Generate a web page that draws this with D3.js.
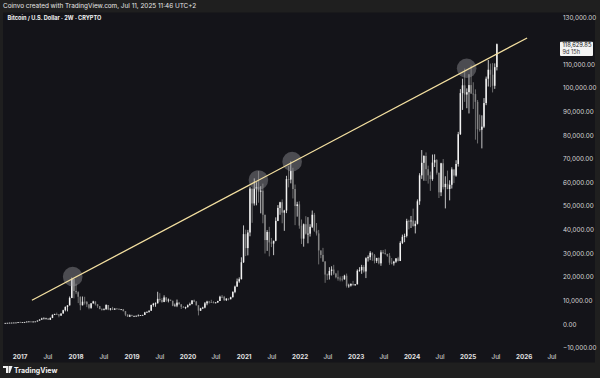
<!DOCTYPE html>
<html>
<head>
<meta charset="utf-8">
<script src="https://cdn.jsdelivr.net/npm/d3@7"></script>
<style>
  body { margin: 0; background: #1f1f1f; }
  svg { display: block; font-family: Inter, "Noto Sans", sans-serif; }
</style>
</head>
<body>
<div id="chart-container"></div>
<script>
// BTC/USD 2W candles, first candle opens 2016-09-12, one every 14 days
const firstOpen = 607;
const closes = [
  600, 617, 655, 710, 730, 765, 790, 1000, 820, 920,
  1000, 1170, 1230, 960, 1190, 1240, 1600, 2050, 2500, 2500,
  2500, 1950, 2750, 4050, 4350, 4250, 3700, 4600, 6000, 7400,
  8050, 11200, 19200, 14150, 13600, 11700, 8100, 9600, 9500, 8500,
  7000, 8900, 9700, 8500, 7700, 6500, 6350, 6350, 8200, 6300,
  6700, 6200, 6700, 6600, 6400, 6400, 5600, 4100, 3250, 3850,
  3500, 3550, 3650, 3750, 3900, 4000, 5050, 5300, 5800, 8200,
  8750, 8900, 10800, 10300, 9500, 11400, 10150, 10450, 10000, 7900,
  7950, 9200, 8500, 7400, 7100, 7300, 8100, 8600, 10150, 9650,
  8050, 5800, 6800, 7100, 8900, 9650, 9450, 9350, 9050, 9300,
  9900, 11700, 11650, 10250, 10900, 10650, 11500, 13750, 16000, 18200,
  19150, 26300, 38200, 32300, 38900, 57500, 51200, 57500, 58200, 56200,
  56600, 46400, 35700, 39100, 34700, 34200, 35400, 43800, 49300, 51700,
  47300, 48200, 61500, 61300, 65000, 57300, 50100, 50800, 41800, 36300,
  42400, 38400, 38400, 41300, 46400, 39700, 38500, 31300, 29400, 26600,
  21100, 20800, 22600, 23200, 21500, 19950, 19400, 19300, 19100, 20600,
  16300, 16450, 17100, 16850, 16950, 22700, 22900, 24300, 22400, 28000,
  28450, 30300, 29250, 26900, 28100, 25850, 30500, 30150, 29800, 29050,
  26100, 25850, 26550, 27950, 26850, 34500, 37050, 37450, 43800, 43700,
  43950, 41600, 42600, 52100, 63100, 68400, 71300, 65700, 63100, 61500,
  68500, 69600, 64200, 55900, 68200, 58100, 59500, 57300, 59100, 65600,
  63000, 67900, 80500, 97900, 101200, 97300, 98300, 101300, 97700, 97500,
  94200, 82600, 82400, 83700, 93700, 104000, 107800, 105700, 101000, 108900,
  118630
];
const highs = [
  610, 620, 660, 740, 750, 770, 795, 1000, 1150, 930,
  1050, 1190, 1300, 1250, 1200, 1250, 1620, 2100, 2800, 3000,
  2800, 2650, 2900, 4200, 4500, 4980, 4300, 4650, 6200, 7600,
  8100, 11800, 19800, 19200, 17200, 14000, 11800, 11800, 11700, 9900,
  8500, 9000, 9990, 9700, 8500, 7800, 6800, 6800, 8500, 8200,
  6900, 7400, 6800, 6800, 6700, 6500, 6550, 5600, 4300, 4200,
  4100, 3700, 3700, 4200, 3950, 4050, 5300, 5450, 5900, 8350,
  9100, 9300, 13800, 13200, 11100, 12300, 11500, 10950, 10450, 10000,
  8800, 10500, 9500, 8500, 7750, 7500, 8450, 9200, 10200, 10500,
  9900, 8150, 7000, 7450, 9450, 10000, 9950, 10400, 9800, 9400,
  10000, 12100, 12450, 12050, 11100, 10950, 11700, 14000, 16400, 19400,
  19900, 28400, 41900, 40100, 40000, 58300, 57500, 61800, 60200, 64900,
  58500, 59600, 45800, 39900, 41300, 36600, 35400, 45300, 50500, 51900,
  52900, 48500, 62900, 67000, 69000, 66300, 59200, 51900, 52100, 44400,
  42700, 45800, 45400, 42400, 48200, 47200, 42900, 40000, 31300, 32400,
  26800, 21500, 24200, 24600, 25200, 21800, 22800, 20300, 20500, 21000,
  21500, 17200, 17400, 18400, 17100, 23300, 24200, 25200, 25100, 28400,
  29200, 31000, 30500, 29800, 28200, 28400, 31400, 31500, 31800, 29900,
  30200, 28100, 26900, 28000, 28600, 35200, 38000, 38400, 44700, 44300,
  45900, 49000, 43900, 52900, 64000, 73800, 71600, 72800, 67200, 64700,
  71900, 72000, 70000, 63400, 68400, 70000, 62700, 65100, 61000, 66500,
  65600, 69500, 81500, 99600, 104000, 108300, 99900, 105900, 109600, 102500,
  99500, 95000, 88800, 88500, 95800, 104900, 111900, 110400, 110600, 110500,
  118900
];
const lows = [
  590, 595, 610, 650, 690, 725, 755, 785, 750, 820,
  915, 980, 1100, 900, 950, 1160, 1230, 1600, 1900, 2350,
  2300, 1850, 1850, 2650, 3950, 4050, 2980, 3650, 4600, 5500,
  5500, 8000, 11100, 11000, 12800, 9000, 6000, 8000, 8400, 7300,
  6400, 6600, 8800, 8000, 7000, 6400, 5800, 6100, 6300, 6000,
  5900, 6100, 6200, 6400, 6200, 6300, 5500, 3500, 3200, 3200,
  3450, 3450, 3350, 3550, 3700, 3850, 3950, 4950, 5000, 5700,
  7500, 7450, 8900, 9600, 9100, 9400, 9500, 9300, 9850, 7700,
  7800, 7300, 8400, 6500, 7100, 6450, 7150, 8000, 8500, 9400,
  8000, 3800, 5700, 6500, 6800, 8100, 8800, 9200, 8900, 8900,
  9100, 9900, 11100, 9900, 9900, 10150, 10600, 11400, 13200, 15900,
  17600, 19000, 26000, 28900, 29200, 37300, 43000, 50300, 50400, 51500,
  47000, 42800, 30000, 31100, 28800, 32700, 29300, 35200, 43700, 46400,
  42800, 39600, 47100, 58000, 59700, 53300, 42000, 45600, 40500, 34000,
  32900, 38000, 34300, 37200, 40800, 39200, 37600, 25400, 28000, 26500,
  17600, 18800, 19000, 20700, 20900, 19500, 18500, 18200, 18200, 18900,
  15600, 15500, 16000, 16300, 16300, 17100, 22300, 21400, 21900, 19600,
  26600, 27200, 26900, 25800, 26000, 25400, 24800, 29800, 29500, 28600,
  25200, 25400, 24900, 26000, 26600, 26800, 34000, 34800, 36800, 40200,
  40800, 41400, 38500, 42300, 50600, 61600, 60800, 60700, 59600, 56500,
  60800, 66600, 63400, 53500, 54300, 57100, 49100, 57200, 52500, 57500,
  59800, 62500, 66800, 80200, 90800, 94200, 91500, 89300, 97600, 91200,
  78200, 76600, 81600, 74500, 83100, 92800, 100700, 100400, 98200, 99700,
  107500
];

const yTicks = [-10000, 0, 10000, 20000, 30000, 40000, 50000, 60000, 70000,
  80000, 90000, 100000, 110000, 120000, 130000];
const xTickDates = ["2017-01-01", "2017-07-01", "2018-01-01", "2018-07-01",
  "2019-01-01", "2019-07-01", "2020-01-01", "2020-07-01", "2021-01-01",
  "2021-07-01", "2022-01-01", "2022-07-01", "2023-01-01", "2023-07-01",
  "2024-01-01", "2024-07-01", "2025-01-01", "2025-07-01", "2026-01-01",
  "2026-07-01"];
const xTickLabels = ["2017", "Jul", "2018", "Jul", "2019", "Jul", "2020", "Jul",
  "2021", "Jul", "2022", "Jul", "2023", "Jul", "2024", "Jul", "2025", "Jul",
  "2026", "Jul"];

// highlighted tops and the resistance line
const markerDates = ["2017-12-10", "2021-04-04", "2021-11-10", "2024-12-22"];
const markerValues = [20200, 61100, 68900, 108400];
const trendDates = ["2017-03-19", "2026-01-20"];
const trendValues = [10200, 121250];

const lastPrice = "118,629.85";
const countdown = "9d 15h";

const W = 600, H = 378;
const plot = { left: 4, right: 557, top: 13, bottom: 350 };

const svg = d3.select("#chart-container")
  .append("svg")
  .attr("width", W)
  .attr("height", H);

// frame + panel
svg.append("rect").attr("width", W).attr("height", H).attr("fill", "#1f1f1f");
svg.append("rect")
  .attr("x", 3).attr("y", 12.5)
  .attr("width", 592).attr("height", 350)
  .attr("fill", "#141419");

svg.append("text")
  .attr("x", 3).attr("y", 8)
  .attr("fill", "#e6e6e6")
  .style("font-size", "6.4px")
  .text("Coinvo created with TradingView.com, Jul 11, 2025 11:46 UTC+2");

svg.append("text")
  .attr("x", 7.5).attr("y", 19.5)
  .attr("fill", "#f0f0f0")
  .style("font-size", "5.6px")
  .style("font-weight", "bold")
  .text("Bitcoin / U.S. Dollar · 2W · CRYPTO");

// scales
const xScale = d3.scaleTime()
  .domain([new Date(2016, 8, 18), new Date(2026, 7, 3)])
  .range([plot.left, plot.right]);

const yScale = d3.scaleLinear()
  .domain([-10000, 130000])
  .range([348, 17.3]);

// y labels (the one under the last-price tag is hidden, as TradingView does)
const yFmt = d3.format(",.2f");
const lastY = yScale(118629.85);
svg.append("g")
  .selectAll("text")
  .data(yTicks.filter(d => Math.abs(yScale(d) - lastY) > 8))
  .join("text")
  .attr("x", 563)
  .attr("y", d => yScale(d) + 2.2)
  .attr("fill", "#d8d8d8")
  .style("font-size", "6.3px")
  .text(d => yFmt(d).replace("-", "\u2212"));

// x labels
svg.append("g")
  .selectAll("text")
  .data(xTickDates)
  .join("text")
  .attr("x", d => xScale(new Date(d + "T00:00:00")))
  .attr("y", 359)
  .attr("text-anchor", "middle")
  .attr("fill", "#e0e0e0")
  .style("font-size", "6.3px")
  .style("font-weight", (d, i) => xTickLabels[i] === "Jul" ? "normal" : "bold")
  .text((d, i) => xTickLabels[i]);

// candles
svg.append("clipPath").attr("id", "clip")
  .append("rect")
  .attr("x", plot.left).attr("y", plot.top)
  .attr("width", plot.right - plot.left).attr("height", plot.bottom - plot.top);

const startDate = new Date(2016, 8, 12);
const candles = closes.map((c, i) => {
  const o = i === 0 ? firstOpen : closes[i - 1];
  return {
    date: d3.timeDay.offset(startDate, i * 14),
    o, c,
    h: Math.max(highs[i], o, c),
    l: Math.min(lows[i], o, c)
  };
});

const step = xScale(candles[1].date) - xScale(candles[0].date);
const bodyW = step * 0.7;

const g = svg.append("g").attr("clip-path", "url(#clip)");
const upColor = "#f2f2f2", downColor = "#858585";

g.selectAll(".wick")
  .data(candles)
  .join("line")
  .attr("class", "wick")
  .attr("x1", d => xScale(d.date))
  .attr("x2", d => xScale(d.date))
  .attr("y1", d => yScale(d.h))
  .attr("y2", d => yScale(d.l))
  .attr("stroke", d => d.c >= d.o ? upColor : downColor)
  .attr("stroke-width", 0.8);

g.selectAll(".body")
  .data(candles)
  .join("rect")
  .attr("class", "body")
  .attr("x", d => xScale(d.date) - bodyW / 2)
  .attr("y", d => yScale(Math.max(d.o, d.c)))
  .attr("width", bodyW)
  .attr("height", d => Math.max(0.8, Math.abs(yScale(d.o) - yScale(d.c))))
  .attr("fill", d => d.c >= d.o ? upColor : downColor);

// highlight circles
g.selectAll(".marker")
  .data(markerDates)
  .join("circle")
  .attr("cx", d => xScale(new Date(d + "T00:00:00")))
  .attr("cy", (d, i) => yScale(markerValues[i]))
  .attr("r", 9.8)
  .attr("fill", "#9a9aa0")
  .attr("fill-opacity", 0.42);

// trend line
g.append("line")
  .attr("x1", xScale(new Date(trendDates[0] + "T00:00:00")))
  .attr("y1", yScale(trendValues[0]))
  .attr("x2", xScale(new Date(trendDates[1] + "T00:00:00")))
  .attr("y2", yScale(trendValues[1]))
  .attr("stroke", "#f3dfa0")
  .attr("stroke-width", 1.3);

// last price tag
const lp = svg.append("g").attr("transform", `translate(560, ${lastY - 2.5})`);
lp.append("rect")
  .attr("width", 33).attr("height", 14.3)
  .attr("rx", 1)
  .attr("fill", "#f4f4f4");
lp.append("text")
  .attr("x", 2.5).attr("y", 5.6)
  .attr("fill", "#111")
  .style("font-size", "5.8px")
  .text(lastPrice);
lp.append("text")
  .attr("x", 2.5).attr("y", 12)
  .attr("fill", "#333")
  .style("font-size", "5.6px")
  .text(countdown);

// TradingView badge
const logo = svg.append("g").attr("transform", "translate(3, 366)");
logo.append("path")
  .attr("d", "M0,0 H5 V7 H3 V2 H0 Z M5.5,0 H9.5 L7,7 H5.5 Z")
  .attr("fill", "#f0f0f0");
logo.append("text")
  .attr("x", 11).attr("y", 6.5)
  .attr("fill", "#f0f0f0")
  .style("font-size", "7px")
  .style("font-weight", "bold")
  .text("TradingView");
</script>
</body>
</html>
